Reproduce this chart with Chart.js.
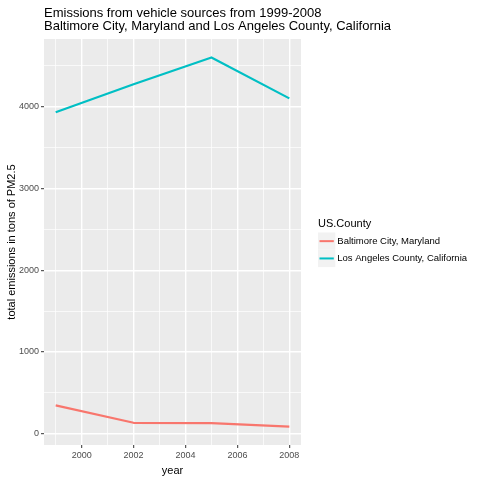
<!DOCTYPE html>
<html>
<head>
<meta charset="utf-8">
<script src="https://cdn.jsdelivr.net/npm/chart.js@4/dist/chart.umd.min.js"></script>
<style>
html,body{margin:0;padding:0;background:#fff;}
canvas{display:block;}
</style>
</head>
<body>
<canvas id="c" width="480" height="480"></canvas>
<script>
const years = [1999, 2002, 2005, 2008];
const baltimore = [346.8, 134.3, 130.4, 88.3];
const losAngeles = [3931.1, 4274.0, 4601.4, 4101.3];
const seriesNames = ["Baltimore City, Maryland", "Los Angeles County, California"];
const seriesColors = ["#F8766D", "#00BFC4"];
const xMajorTicks = [2000, 2002, 2004, 2006, 2008];
const yMajorTicks = [0, 1000, 2000, 3000, 4000];
const titleLines = ["Emissions from vehicle sources from 1999-2008", "Baltimore City, Maryland and Los Angeles County, California"];
const xTitle = "year";
const yTitle = "total emissions in tons of PM2.5";
const legendTitle = "US.County";

const FONT = "'Liberation Sans', Arial, sans-serif";

// ggplot-like 5% expansion
function expand(lo, hi){ const d = (hi - lo) * 0.05; return [lo - d, hi + d]; }
const allY = baltimore.concat(losAngeles);
const [yMin, yMax] = expand(Math.min(...allY), Math.max(...allY));
const [xMin, xMax] = expand(Math.min(...years), Math.max(...years));

function withMinor(major, lo, hi){
  const step = major[1] - major[0];
  const out = [];
  for (let v = major[0] - step; v <= major[major.length-1] + step + 1e-9; v += step/2){
    if (v >= lo && v <= hi) out.push(v);
  }
  return out;
}
const xAll = withMinor(xMajorTicks, xMin, xMax);
const yAll = withMinor(yMajorTicks, yMin, yMax);
const isMajor = (arr, v) => arr.some(m => Math.abs(m - v) < 1e-6);

const panelBg = {
  id: 'panelBg',
  beforeDraw(chart){
    const {ctx, chartArea:a} = chart;
    ctx.save();
    ctx.fillStyle = '#EBEBEB';
    ctx.fillRect(a.left, a.top, a.right - a.left, a.bottom - a.top);
    ctx.restore();
  }
};

const titleAndLegend = {
  id: 'titleAndLegend',
  afterDraw(chart){
    const {ctx, chartArea:a} = chart;
    ctx.save();
    ctx.fillStyle = '#000';
    ctx.textAlign = 'left';
    ctx.textBaseline = 'middle';
    ctx.font = '13px ' + FONT;
    ctx.fillText(titleLines[0], a.left, 13);
    ctx.fillText(titleLines[1], a.left, 26);
    // legend
    const lx = 318;
    ctx.font = '11px ' + FONT;
    ctx.fillText(legendTitle, lx, 224);
    const keyH = 17.3, keyW = 17.3;
    let ky = 232.5;
    chart.data.datasets.forEach(ds => {
      ctx.fillStyle = '#F2F2F2';
      ctx.fillRect(lx, ky, keyW, keyH);
      ctx.strokeStyle = ds.borderColor;
      ctx.lineWidth = 2;
      ctx.beginPath();
      ctx.moveTo(lx + 1.5, ky + keyH/2);
      ctx.lineTo(lx + keyW - 1.5, ky + keyH/2);
      ctx.stroke();
      ctx.fillStyle = '#000';
      ctx.font = '9.5px ' + FONT;
      ctx.fillText(ds.label, lx + keyW + 2, ky + keyH/2);
      ky += keyH;
    });
    ctx.restore();
  }
};

new Chart(document.getElementById('c'), {
  type: 'line',
  data: {
    datasets: [
      { label: seriesNames[0], data: years.map((y,i)=>({x:y, y:baltimore[i]})), borderColor: seriesColors[0], backgroundColor: seriesColors[0] },
      { label: seriesNames[1], data: years.map((y,i)=>({x:y, y:losAngeles[i]})), borderColor: seriesColors[1], backgroundColor: seriesColors[1] }
    ]
  },
  options: {
    responsive: false,
    animation: false,
    devicePixelRatio: 1,
    layout: { padding: { top: 39, right: 179, left: 0, bottom: 0 } },
    elements: {
      point: { radius: 0, hoverRadius: 0 },
      line: { borderWidth: 2.2, tension: 0, borderCapStyle: 'butt', borderJoinStyle: 'round' }
    },
    plugins: { legend: { display: false }, title: { display: false }, tooltip: { enabled: false } },
    scales: {
      x: {
        type: 'linear',
        min: xMin, max: xMax,
        afterBuildTicks: s => { s.ticks = xAll.map(v => ({value: v})); },
        afterFit: s => { s.height = 35; },
        border: { display: false },
        grid: {
          color: '#FFFFFF',
          lineWidth: c => (c.tick && isMajor(xMajorTicks, c.tick.value)) ? 1.4 : 0.7,
          tickColor: c => (c.tick && isMajor(xMajorTicks, c.tick.value)) ? '#333333' : 'rgba(0,0,0,0)',
          tickLength: 3,
          tickWidth: 1
        },
        ticks: {
          autoSkip: false,
          maxRotation: 0,
          padding: 2.5,
          color: '#4D4D4D',
          font: { family: FONT, size: 9 },
          callback: v => isMajor(xMajorTicks, v) ? String(v) : ''
        },
        title: { display: true, text: xTitle, color: '#000', font: { family: FONT, size: 11 }, padding: { top: 0, bottom: 2.8 } }
      },
      y: {
        type: 'linear',
        min: yMin, max: yMax,
        afterBuildTicks: s => { s.ticks = yAll.map(v => ({value: v})); },
        afterFit: s => { s.width = 44; },
        border: { display: false },
        grid: {
          color: '#FFFFFF',
          lineWidth: c => (c.tick && isMajor(yMajorTicks, c.tick.value)) ? 1.4 : 0.7,
          tickColor: c => (c.tick && isMajor(yMajorTicks, c.tick.value)) ? '#333333' : 'rgba(0,0,0,0)',
          tickLength: 3,
          tickWidth: 1
        },
        ticks: {
          autoSkip: false,
          padding: 2,
          color: '#4D4D4D',
          font: { family: FONT, size: 9 },
          callback: v => isMajor(yMajorTicks, v) ? String(v) : ''
        },
        title: { display: true, text: yTitle, color: '#000', font: { family: FONT, size: 11 }, padding: { top: 5.4, bottom: 0 } }
      }
    }
  },
  plugins: [panelBg, titleAndLegend]
});
</script>
</body>
</html>
